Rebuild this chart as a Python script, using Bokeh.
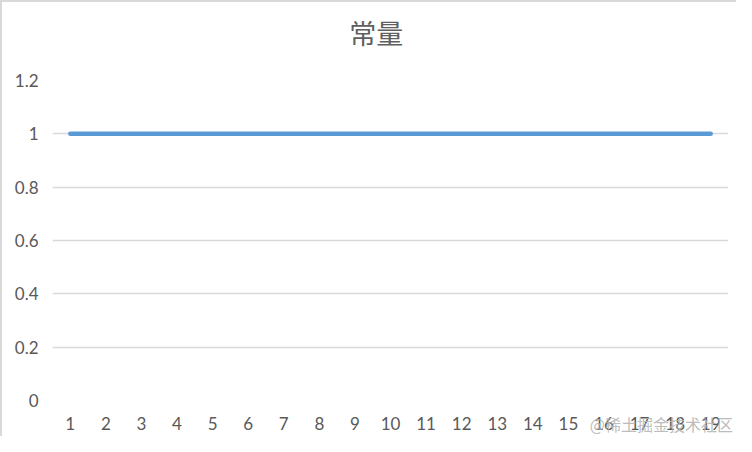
from bokeh.plotting import figure
from bokeh.models import Range1d, FixedTicker, NumeralTickFormatter, Label
from bokeh.embed import file_html
from bokeh.resources import INLINE

title_text = "常量"
categories = ["1", "2", "3", "4", "5", "6", "7", "8", "9", "10",
              "11", "12", "13", "14", "15", "16", "17", "18", "19"]
values = [1, 1, 1, 1, 1, 1, 1, 1, 1, 1, 1, 1, 1, 1, 1, 1, 1, 1, 1]
y_ticks = [0, 0.2, 0.4, 0.6, 0.8, 1, 1.2]
watermark = "@稀土掘金技术社区"

p = figure(width=736, height=436, x_range=categories, y_range=Range1d(0, 1.2),
           output_backend="svg", toolbar_location=None,
           min_border_left=50, min_border_right=10, min_border_top=78, min_border_bottom=38)

p.line(categories, values, line_color="#5b9bd5", line_width=4.5, line_cap="round")

p.outline_line_color = None
p.xgrid.grid_line_color = None
p.ygrid.grid_line_color = "#d9d9d9"
p.ygrid.grid_line_width = 1.3

p.yaxis.ticker = FixedTicker(ticks=y_ticks)
p.yaxis.formatter = NumeralTickFormatter(format="0.[0]")
for ax in (p.xaxis, p.yaxis):
    ax.axis_line_color = None
    ax.major_tick_line_color = None
    ax.minor_tick_line_color = None
    ax.major_label_text_font = "Lato"
    ax.major_label_text_font_size = "17px"
    ax.major_label_text_color = "#595959"
p.yaxis.major_label_standoff = 8
p.xaxis.major_label_standoff = 10

# title and watermark are placed in the top side panel (not clipped to the frame)
title = Label(x=9.1, y=1.38, text=title_text, text_align="center", text_baseline="middle",
              text_font="Noto Sans CJK SC", text_font_size="27px", text_color="#5f5f5f")
p.add_layout(title, "above")

wm = Label(x=15.1, y=-0.088, text=watermark, text_align="left", text_baseline="middle",
           text_font="Noto Sans CJK SC", text_font_size="16px",
           text_color="#b4b4b4", text_alpha=0.9)
p.add_layout(wm, "above")

p.styles = {"border-left": "2px solid #d9d9d9", "border-top": "2px solid #d9d9d9"}

open("out.html", "w").write(file_html(p, INLINE))
